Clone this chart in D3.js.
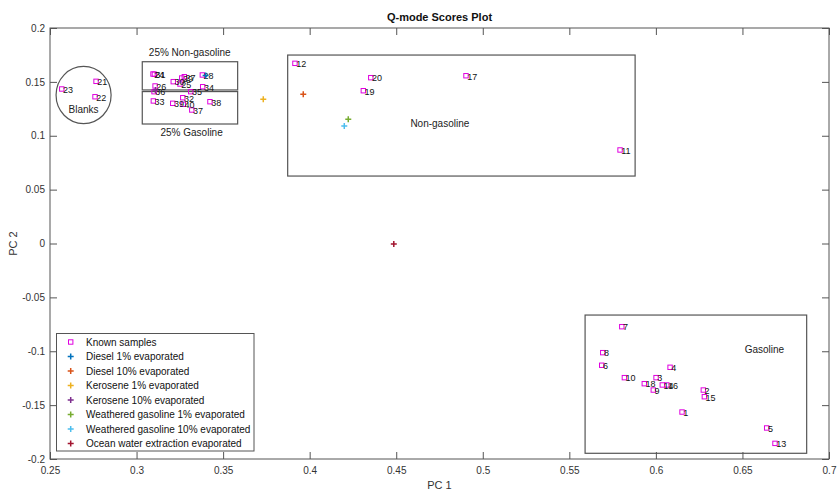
<!DOCTYPE html>
<html>
<head>
<meta charset="utf-8">
<script src="https://cdn.jsdelivr.net/npm/d3@7"></script>
<style>
  html, body { margin: 0; padding: 0; background: #fff; }
  svg { display: block; font-family: "Liberation Sans", Arial, Helvetica, sans-serif; }
</style>
</head>
<body>
<svg id="chart" width="838" height="491"></svg>
<script>
// ---- Known samples (ID, PC1, PC2) ----
const knownIds = [1,2,3,4,5,6,7,8,9,10,11,12,13,14,15,16,17,18,19,20,
                  21,22,23,24,25,26,27,28,29,30,31,32,33,34,35,36,37,38,39,40];
const knownPC1 = [0.6151,0.6274,0.6001,0.6082,0.6640,0.5687,0.5803,0.5693,0.5985,0.5818,
                  0.5793,0.3915,0.6688,0.6037,0.6280,0.6063,0.4903,0.5933,0.4310,0.4353,
                  0.2766,0.2760,0.2568,0.3095,0.3251,0.3107,0.3276,0.3380,0.3261,0.3212,
                  0.3103,0.3267,0.3097,0.3382,0.3313,0.3101,0.3319,0.3424,0.3209,0.3270];
const knownPC2 = [-0.1564,-0.1360,-0.1245,-0.1149,-0.1712,-0.1130,-0.0772,-0.1013,-0.1360,-0.1245,
                  0.0868,0.1672,-0.1855,-0.1313,-0.1422,-0.1313,0.1557,-0.1301,0.1418,0.1539,
                  0.1505,0.1362,0.1434,0.1573,0.1480,0.1462,0.1548,0.1564,0.1536,0.1502,
                  0.1571,0.1353,0.1323,0.1455,0.1409,0.1409,0.1239,0.1316,0.1301,0.1292];

// ---- Evaporated test samples ----
const testNames = ["Diesel 1% evaporated","Diesel 10% evaporated","Kerosene 1% evaporated",
                   "Kerosene 10% evaporated","Weathered gasoline 1% evaporated",
                   "Weathered gasoline 10% evaporated","Ocean water extraction evaporated"];
const testPC1 = [0.3399,0.3963,0.3732,0.3109,0.4223,0.4200,0.4486];
const testPC2 = [0.1560,0.1385,0.1338,0.1425,0.1153,0.1090,-0.0005];
const testColors = ["#0072BD","#D95319","#EDB120","#7E2F8E","#77AC30","#4DBEEE","#A2142F"];

// ---- Group annotations ----
const boxNames = ["Non-gasoline","Gasoline","25% Non-gasoline","25% Gasoline"];
const boxX0 = [0.3873,0.5591,0.3033,0.3033];
const boxX1 = [0.5880,0.6871,0.3584,0.3584];
const boxY0 = [0.1749,-0.0664,0.1687,0.1410];
const boxY1 = [0.0626,-0.1947,0.1425,0.1109];
const boxLabelX = [0.4752,0.6627,0.3307,0.3318];
const boxLabelY = [0.1115,-0.0982,0.1770,0.1026];
const blankCenter = [0.2694,0.1378];
const blankRadius = [0.0159,0.0265];

// ---- Axis ticks ----
const xTicks = [0.25,0.3,0.35,0.4,0.45,0.5,0.55,0.6,0.65,0.7];
const xTickLabels = ["0.25","0.3","0.35","0.4","0.45","0.5","0.55","0.6","0.65","0.7"];
const yTicks = [-0.2,-0.15,-0.1,-0.05,0,0.05,0.1,0.15,0.2];
const yTickLabels = ["-0.2","-0.15","-0.1","-0.05","0","0.05","0.1","0.15","0.2"];

const svg = d3.select("#chart");
const L = 50, R = 829, T = 28, B = 459;
const x = d3.scaleLinear().domain([0.25, 0.7]).range([L, R]);
const y = d3.scaleLinear().domain([-0.2, 0.2]).range([B, T]);
const axisColor = "#555";
const textColor = "#333";

// axes with inward ticks on all four sides
function styleAxis(g) {
  g.select(".domain").remove();
  g.selectAll(".tick line").attr("stroke", axisColor);
  g.selectAll(".tick text").attr("fill", textColor).style("font-size", "10px")
    .style("font-family", "'Liberation Sans', Arial, sans-serif");
}
svg.append("g").attr("transform", `translate(0,${B})`)
  .call(d3.axisBottom(x).tickValues(xTicks).tickFormat((d, i) => xTickLabels[i])
    .tickSizeInner(-7).tickSizeOuter(0).tickPadding(8))
  .call(styleAxis);
svg.append("g").attr("transform", `translate(0,${T})`)
  .call(d3.axisTop(x).tickValues(xTicks).tickFormat("").tickSizeInner(-7).tickSizeOuter(0))
  .call(styleAxis);
svg.append("g").attr("transform", `translate(${L},0)`)
  .call(d3.axisLeft(y).tickValues(yTicks).tickFormat((d, i) => yTickLabels[i])
    .tickSizeInner(-7).tickSizeOuter(0).tickPadding(5))
  .call(styleAxis);
svg.append("g").attr("transform", `translate(${R},0)`)
  .call(d3.axisRight(y).tickValues(yTicks).tickFormat("").tickSizeInner(-7).tickSizeOuter(0))
  .call(styleAxis);

svg.append("rect").attr("x", L).attr("y", T).attr("width", R - L).attr("height", B - T)
  .attr("fill", "none").attr("stroke", axisColor).attr("stroke-width", 1);

// title and axis labels
svg.append("text").attr("x", (L + R) / 2).attr("y", 21).attr("text-anchor", "middle")
  .style("font-size", "11px").style("font-weight", "bold").attr("fill", "#111")
  .text("Q-mode Scores Plot");
svg.append("text").attr("x", (L + R) / 2).attr("y", 489).attr("text-anchor", "middle")
  .style("font-size", "11px").attr("fill", textColor).text("PC 1");
svg.append("text").attr("transform", `translate(17,${(T + B) / 2}) rotate(-90)`)
  .attr("text-anchor", "middle").style("font-size", "11px").attr("fill", textColor).text("PC 2");

// group boxes and blanks circle
const ann = svg.append("g");
boxNames.forEach((name, i) => {
  ann.append("rect")
    .attr("x", x(boxX0[i])).attr("y", y(boxY0[i]))
    .attr("width", x(boxX1[i]) - x(boxX0[i])).attr("height", y(boxY1[i]) - y(boxY0[i]))
    .attr("fill", "none").attr("stroke", "#555").attr("stroke-width", 1.2);
  ann.append("text").attr("x", x(boxLabelX[i])).attr("y", y(boxLabelY[i]))
    .attr("text-anchor", "middle").attr("dominant-baseline", "central")
    .style("font-size", "10px").attr("fill", "#222").text(name);
});
ann.append("ellipse")
  .attr("cx", x(blankCenter[0])).attr("cy", y(blankCenter[1]))
  .attr("rx", x(blankCenter[0] + blankRadius[0]) - x(blankCenter[0]))
  .attr("ry", y(blankCenter[1]) - y(blankCenter[1] + blankRadius[1]))
  .attr("fill", "none").attr("stroke", "#555").attr("stroke-width", 1.2);
ann.append("text").attr("x", x(0.2694)).attr("y", y(0.1244))
  .attr("text-anchor", "middle").attr("dominant-baseline", "central")
  .style("font-size", "10px").attr("fill", "#222").text("Blanks");

// known samples: magenta squares with ID labels
const known = knownIds.map((id, i) => ({ id, px: knownPC1[i], py: knownPC2[i] }));
const kg = svg.append("g");
kg.selectAll("rect").data(known).join("rect")
  .attr("x", d => x(d.px) - 2.2).attr("y", d => y(d.py) - 2.2)
  .attr("width", 4.4).attr("height", 4.4)
  .attr("fill", "none").attr("stroke", "#e000e0").attr("stroke-width", 1);
kg.selectAll("text").data(known).join("text")
  .attr("x", d => x(d.px) + 1.2).attr("y", d => y(d.py) + 0.8)
  .attr("dominant-baseline", "central")
  .style("font-size", "9px").attr("fill", "#111").text(d => d.id);

// evaporated samples: coloured plus markers
const plus = (g, cx, cy, color) => {
  g.append("path").attr("d", `M${cx - 3},${cy}H${cx + 3}M${cx},${cy - 3}V${cy + 3}`)
    .attr("stroke", color).attr("stroke-width", 1.5).attr("fill", "none");
};
const tg = svg.append("g");
testNames.forEach((n, i) => plus(tg, x(testPC1[i]), y(testPC2[i]), testColors[i]));

// legend
const lg = svg.append("g");
const legX0 = 56.5, legY0 = 333.5, legW = 197.5, legH = 117.5, rowH = 14.5;
lg.append("rect").attr("x", legX0).attr("y", legY0).attr("width", legW).attr("height", legH)
  .attr("fill", "#fff").attr("stroke", "#555").attr("stroke-width", 1);
const legNames = ["Known samples"].concat(testNames);
legNames.forEach((n, i) => {
  const cy = legY0 + 8.5 + i * rowH;
  if (i === 0) {
    lg.append("rect").attr("x", 70.7 - 2.2).attr("y", cy - 2.2).attr("width", 4.4).attr("height", 4.4)
      .attr("fill", "none").attr("stroke", "#e000e0").attr("stroke-width", 1);
  } else {
    plus(lg, 70.7, cy, testColors[i - 1]);
  }
  lg.append("text").attr("x", 86).attr("y", cy).attr("dominant-baseline", "central")
    .style("font-size", "10px").attr("fill", "#111").text(n);
});
</script>
</body>
</html>
